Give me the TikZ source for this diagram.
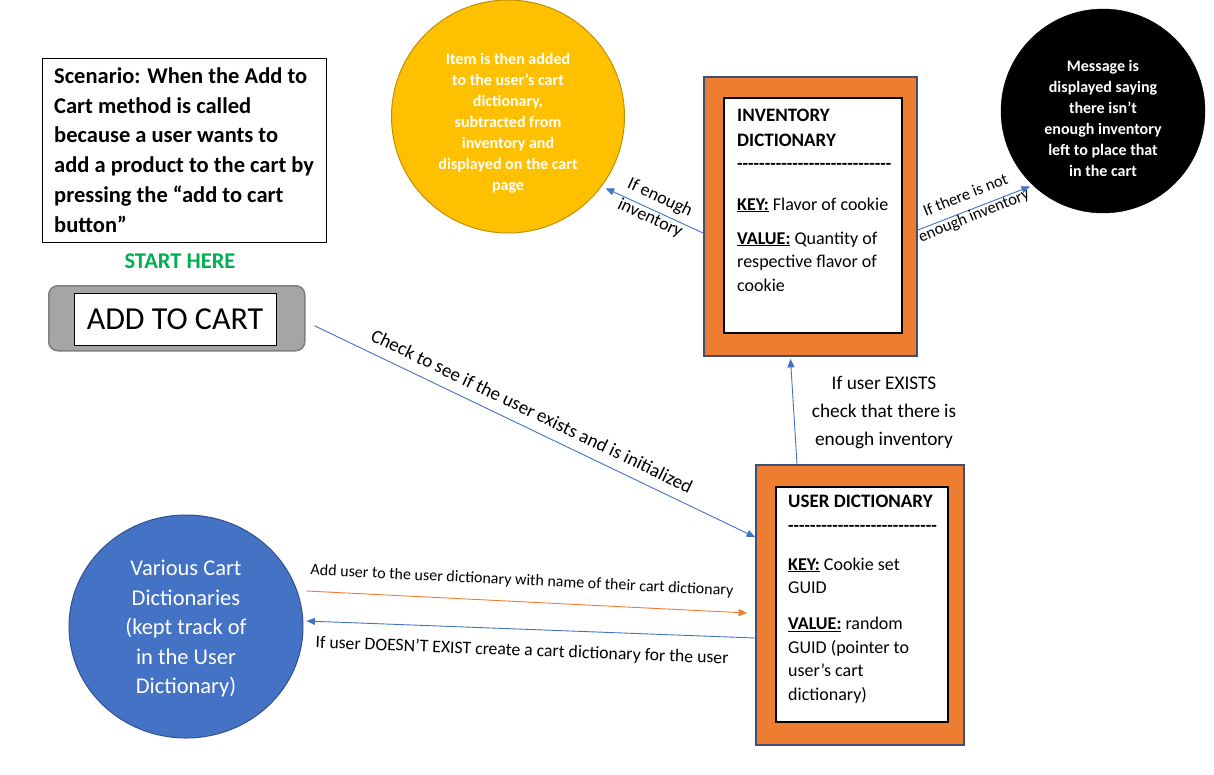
\documentclass[tikz,border=0pt]{standalone}
\usepackage{fontspec}
\setmainfont{Carlito}
\usetikzlibrary{arrows.meta,shapes.geometric}
\definecolor{orng}{HTML}{ED7D31}
\definecolor{boxedge}{HTML}{3F4F78}
\definecolor{yel}{HTML}{FFC000}
\definecolor{yeledge}{HTML}{BF9000}
\definecolor{blu}{HTML}{4472C4}
\definecolor{bluedge}{HTML}{2F528F}
\definecolor{btngray}{HTML}{A5A5A5}
\definecolor{btnedge}{HTML}{7F7F7F}
\definecolor{grn}{HTML}{00B050}
\ExplSyntaxOn
\NewDocumentCommand\dashrow{m}{\prg_replicate:nn{#1}{-\kern0pt}}
\ExplSyntaxOff
\newcommand\boxtitle[1]{{\bfseries\fontsize{19}{23.5}\selectfont #1}}
\tikzset{
  outerbox/.style={draw=boxedge, fill=orng, line width=1.8pt, inner sep=0pt},
  innerbox/.style={draw=black, fill=white, line width=1.2pt, inner sep=0pt},
  boxtext/.style={anchor=base west, align=left, inner sep=0pt, font=\fontsize{18}{23.5}\selectfont},
  lbl/.style={inner sep=0pt, align=center},
  conn/.style={draw=blu, line width=0.9pt, -{Triangle[length=8.5pt,width=7pt]}},
  connor/.style={draw=orng, line width=0.9pt, -{Triangle[length=8.5pt,width=7pt]}},
  circtext/.style={text=white, align=center, inner sep=0pt, font=\bfseries\fontsize{16}{21}\selectfont}
}
\begin{document}
\begin{tikzpicture}[x=1pt,y=-1pt]
\useasboundingbox (0,0) rectangle (1214,774);
\fill[white] (0,0) rectangle (1214,774);

% Scenario
\node[draw=black, line width=1pt, minimum width=284, minimum height=184, anchor=north west, inner sep=0pt] (scen) at (42,58) {};
\node[anchor=base west, align=left, inner sep=0pt, font=\bfseries\fontsize{22.5}{29.7}\selectfont] (scentext) at (54,232)
  {Scenario: When the Add to\\Cart method is called\\because a user wants to\\add a product to the cart by\\pressing the “add to cart\\button”};
\node[text=grn, inner sep=0pt, font=\bfseries\fontsize{22.5}{26}\selectfont] (start) at (180,261) {START HERE};

% Button
\node[draw=btnedge, fill=btngray, rounded corners=9pt, line width=1.5pt, minimum width=256, minimum height=65, anchor=north west, inner sep=0pt] (btn) at (48,285) {};
\node[draw=black, fill=white, line width=1pt, minimum width=202, minimum height=52, inner sep=0pt, font=\fontsize{32}{36}\selectfont] (btnin) at (175,319) {ADD TO CART};

% Yellow circle
\node[circle, fill=yel, draw=yeledge, line width=1pt, minimum size=233, inner sep=0pt] (yc) at (508,116.5) {};
\node[circtext] (yct) at (508,123.5) {Item is then added\\to the user’s cart\\dictionary,\\subtracted from\\inventory and\\displayed on the cart\\page};

% Black circle
\node[circle, fill=black, draw=black, minimum size=204, inner sep=0pt] (bc) at (1103,111) {};
\node[circtext] (bct) at (1103,118) {Message is\\displayed saying\\there isn’t\\enough inventory\\left to place that\\in the cart};

% Inventory dictionary
\node[outerbox, minimum width=213, minimum height=279] (io) at (810.5,216.5) {};
\node[innerbox, minimum width=178, minimum height=235] (ii) at (813,215.5) {};
\node[boxtext] (it) at (737,291)
  {\boxtitle{INVENTORY}\\[1.5pt]\boxtitle{DICTIONARY}\\[-0.5pt]\textbf{\dashrow{28}}\\[17.5pt]\textbf{\underline{KEY:}} Flavor of cookie\\[10.5pt]\textbf{\underline{VALUE:}} Quantity of\\respective flavor of\\cookie};

% User dictionary
\node[outerbox, minimum width=208, minimum height=280] (uo) at (860,605) {};
\node[innerbox, minimum width=172, minimum height=235] (ui) at (862,604.5) {};
\node[boxtext] (ut) at (788,700)
  {\boxtitle{USER DICTIONARY}\\[0.5pt]\textbf{\dashrow{27}}\\[15.5pt]\textbf{\underline{KEY:}} Cookie set\\GUID\\[12.5pt]\textbf{\underline{VALUE:}} random\\GUID (pointer to\\user’s cart\\dictionary)};

% Blue ellipse
\node[ellipse, fill=blu, draw=bluedge, line width=1pt, minimum width=234, minimum height=223, inner sep=0pt] (bl) at (186,626.5) {};
\node[text=white, align=center, inner sep=0pt, font=\fontsize{22.5}{29.5}\selectfont] (blt) at (186,629)
  {Various Cart\\Dictionaries\\(kept track of\\in the User\\Dictionary)};

% Connectors
\draw[conn] ([xshift=9pt,yshift=-7.5pt]btn.east) -- ([yshift=-73pt]uo.north west);
\draw[conn] ([xshift=-63pt]uo.north) -- ([xshift=-20pt,yshift=-2pt]io.south);
\draw[conn] ([yshift=-16.5pt]io.west) -- ([shift={(3pt,-3pt)}]yc.-36);
\draw[conn] ([yshift=-13.5pt]io.east) -- ([shift={(-2pt,-2pt)}]bc.226);
\draw[connor] ([xshift=3pt,yshift=35.5pt]bl.east) -- ([xshift=-8pt,yshift=-8pt]uo.west);
\draw[conn] ([yshift=-33pt]uo.west) -- ([xshift=3pt,yshift=5.5pt]bl.east);

% Labels
\node[lbl, rotate=-25.7, font=\fontsize{19}{22}\selectfont] (lcheck) at (532,411) {Check to see if the user exists and is initialized};
\node[lbl, font=\fontsize{19.3}{28}\selectfont] (lexists) at (884,413) {If user EXISTS\\check that there is\\enough inventory};
\node[lbl, rotate=-25, font=\fontsize{18}{23}\selectfont] (lenough) at (655,208) {If enough\\inventory};
\node[lbl, rotate=22, font=\fontsize{16.5}{22}\selectfont] (lnot) at (970,206) {If there is not\\enough inventory};
\node[lbl, rotate=-2.8, font=\fontsize{16}{18}\selectfont] (ladd) at (522,581) {Add user to the user dictionary with name of their cart dictionary};
\node[lbl, rotate=-2.2, font=\fontsize{17.7}{20}\selectfont] (ldoes) at (522,651) {If user DOESN’T EXIST create a cart dictionary for the user};
\end{tikzpicture}
\end{document}
